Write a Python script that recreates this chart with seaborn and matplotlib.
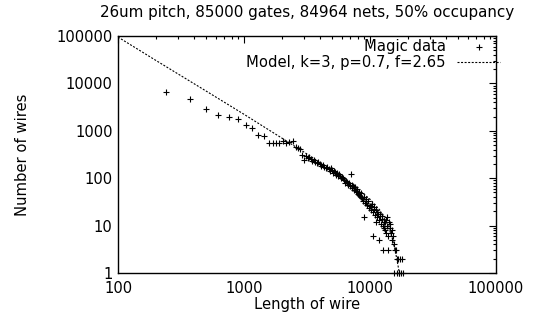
import numpy as np
import pandas as pd
import seaborn as sns
import matplotlib.pyplot as plt
from matplotlib.ticker import LogLocator, FixedLocator, NullFormatter

wire_len = [240, 370, 500, 620, 760, 900, 1040, 1160, 1290, 1440,
            1580, 1700, 1800, 1900, 2040, 2150, 2280, 2450,
            2590, 2680, 2780, 2890, 2990,
            3100, 3220, 3280, 3400, 3465, 3595, 3660, 3795, 3865, 4010,
            4085, 4235, 4315, 4475, 4560, 4730, 4815, 4990, 5085, 5275,
            5370, 5570, 5675, 5885, 5995, 6220, 6335, 6570, 6690, 6935,
            7065, 7195, 7330, 7465, 7600, 7745, 7885, 8035, 8180, 8335,
            8490, 8645, 8800, 8965, 9130, 9300, 9470, 9645, 9825, 10000,
            10185, 10375, 10565, 10760, 10960, 11160, 11365, 11575, 11790, 12005,
            12230, 12455, 12685, 12915, 13155, 13395, 13645, 13895, 14150, 14410,
            14675, 14945, 15220, 15500, 15790, 16080, 16375, 16675, 16985, 17295,
            17940, 15500, 16375, 16985, 17615, 18270,
            10565, 11790, 12685, 13895, 8965, 11160,
            4900, 5180, 5470, 5780, 6105, 6450, 6810, 7195, 7465, 7885,
            8180, 8490, 9300, 10185, 10760, 11365, 12005, 12455, 13155, 13645,
            14410, 14945, 12915, 13395]
wire_cnt = [6500, 4600, 2900, 2150, 1950, 1780, 1320, 1150, 820, 780,
            550, 550, 550, 550, 610, 550, 580, 610,
            455, 434, 414, 308, 242,
            294, 267, 280, 254, 231, 242, 220, 209, 220, 199,
            181, 190, 172, 164, 172, 156, 142, 149, 129, 135,
            117, 111, 123, 101, 106, 92, 79, 83, 72, 68,
            123, 62, 68, 56, 65, 54, 59, 46, 51, 42,
            49, 38, 33, 40, 30, 36, 27, 33, 24, 26,
            21, 29, 19, 25, 17, 21, 15, 18, 13, 16,
            11, 14, 10, 12, 8, 13, 10, 6, 12, 9,
            7, 5, 6, 4, 3, 3, 2, 2, 1, 2,
            2, 1, 1, 1, 1, 1,
            6, 5, 3, 3, 15, 12,
            164, 142, 129, 111, 101, 87, 79, 72, 65, 51,
            44, 40, 30, 26, 22, 19, 18, 16, 12, 15,
            11, 8, 9, 7]

# model curve k=3, p=0.7, f=2.65
model_len = [100, 200, 500, 1000, 2000, 3000, 5000, 7000, 10000,
             12000, 14000, 15000, 16000, 17000, 17500]
model_cnt = [95000, 30500, 6900, 2230, 700, 354, 147, 79, 36,
             21, 9.6, 5.5, 2.6, 1.1, 0.5]

x_ticks = [100, 1000, 10000, 100000]
y_ticks = [1, 10, 100, 1000, 10000, 100000]

sns.set_style("white")
plt.rcParams["font.family"] = ["DejaVu Sans"]
plt.rcParams["font.size"] = 10.6
plt.rcParams["text.color"] = "black"
plt.rcParams["axes.labelcolor"] = "black"
plt.rcParams["xtick.color"] = "black"
plt.rcParams["ytick.color"] = "black"

data = pd.DataFrame({"len": wire_len, "cnt": wire_cnt})
model = pd.DataFrame({"len": model_len, "cnt": model_cnt})

fig = plt.figure(figsize=(5.54, 3.2), dpi=100)
ax = fig.add_axes([118 / 554, 1 - 273 / 320, (496 - 118) / 554, (273 - 36) / 320])

sns.scatterplot(data=data, x="len", y="cnt", ax=ax, marker="+", s=18,
                color="black", linewidth=0.8, label="Magic data", clip_on=False)
sns.lineplot(data=model, x="len", y="cnt", ax=ax, sort=False, color="black",
             linewidth=0.8, linestyle=(0, (1.8, 1.4)), label="Model, k=3, p=0.7, f=2.65")

ax.set_xscale("log")
ax.set_yscale("log")
ax.set_xlim(100, 100000)
ax.set_ylim(1, 100000)
ax.xaxis.set_major_locator(FixedLocator(x_ticks))
ax.yaxis.set_major_locator(FixedLocator(y_ticks))
ax.set_xticklabels([str(v) for v in x_ticks])
ax.set_yticklabels([str(v) for v in y_ticks])
ax.xaxis.set_minor_locator(LogLocator(base=10, subs=np.arange(2, 10)))
ax.yaxis.set_minor_locator(LogLocator(base=10, subs=np.arange(2, 10)))
ax.xaxis.set_minor_formatter(NullFormatter())
ax.yaxis.set_minor_formatter(NullFormatter())
ax.tick_params(which="both", direction="in", top=True, right=True,
               color="black", labelcolor="black", width=0.8)
ax.tick_params(which="major", length=5, pad=4)
ax.tick_params(axis="x", which="major", pad=5.5)
ax.tick_params(which="minor", length=2.5)
for sp in ax.spines.values():
    sp.set_color("black")
    sp.set_linewidth(1)

ax.set_xlabel("Length of wire", labelpad=1)
ax.set_ylabel("Number of wires", labelpad=19)
ax.set_title("26um pitch, 85000 gates, 84964 nets, 50% occupancy", pad=14, fontsize=10.9)

ax.legend(loc="upper right", bbox_to_anchor=(500 / 554, 1 - 39 / 320),
          bbox_transform=fig.transFigure, frameon=False, markerfirst=False,
          handlelength=2.9, handletextpad=0.8, borderpad=0, borderaxespad=0,
          labelspacing=0.1, labelcolor="black")

fig.savefig("out.png", dpi=100)
